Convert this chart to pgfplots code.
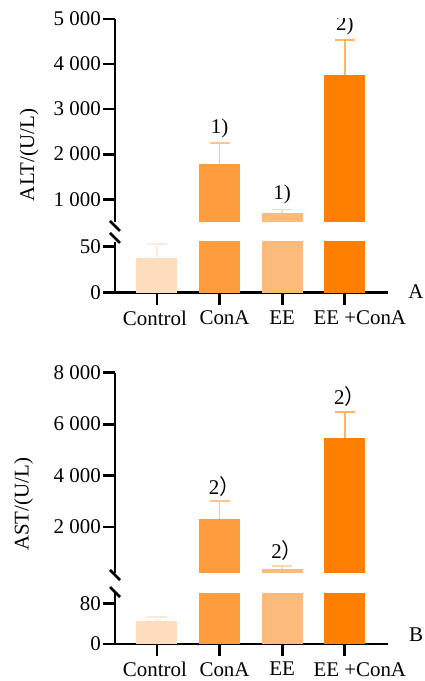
\documentclass[border=0pt]{standalone}
\usepackage{pgfplots}
\pgfplotsset{compat=1.18}
\usepackage{fontspec}
\setmainfont{Liberation Serif}
\newfontfamily\cjk{Noto Sans CJK SC}
\definecolor{cCtrl}{HTML}{FDDDBE}
\definecolor{cConA}{HTML}{FE9C3E}
\definecolor{cEE}{HTML}{FDBB7B}
\definecolor{cBoth}{HTML}{FF8000}
\newcommand{\fs}{\fontsize{21}{25}\selectfont}
\pgfplotsset{
  base/.style={
    scale only axis, width=273bp, xmin=-0.67, xmax=3.69,
    axis y line=left,
    /pgf/number format/assume math mode=true,
    tick label style={font=\fs},
    yticklabel style={inner sep=2bp},
    clip=true,
  },
  lines/.style={
    tick align=outside, xtick align=outside, ytick align=outside,
    major tick length=12bp,
    x axis line style={-, line width=2.8bp, black},
    y axis line style={-, line width=2.8bp, black},
    every outer x axis line/.append style={-, line width=2.8bp},
    every outer y axis line/.append style={-, line width=2.8bp},
    every major tick/.append style={line width=2.8bp, black},
    major tick style={line width=2.8bp, black},
  },
  lower/.style={base, height=50.7bp, ymin=0, axis x line=bottom,
    xtick={0,1,2,3},
    xticklabels={Control\hspace*{4bp}, \hspace*{10bp}ConA, EE, \hspace*{30bp}EE +ConA},
    xticklabel style={inner sep=2bp, yshift=-4bp}, lines},
  upper/.style={base, axis x line=none, xtick=\empty, lines},
  bar/.style={ybar, bar width=41bp, bar shift=0pt, draw=none, fill=#1},
  err/.style={error bars/.cd, y dir=plus, y explicit,
    error bar style={line width=1.8bp, #1!60!white},
    error mark options={rotate=90, line width=1.8bp, #1!60!white, mark size=10bp}},
}
\begin{document}
\begin{tikzpicture}[x=1bp,y=1bp]
\path[use as bounding box] (0,0) rectangle (424,681);
% ---------- Panel A ----------
\begin{axis}[lower, at={(115bp,388.3bp)}, anchor=south west, ymax=55,
  ytick={0,50}, yticklabels={0,50}]
\addplot[bar=cCtrl, err=cCtrl] coordinates {(0,38) +- (0,15)};
\addplot[bar=cConA] coordinates {(1,1780)};
\addplot[bar=cEE] coordinates {(2,690)};
\addplot[bar=cBoth] coordinates {(3,3750)};
\end{axis}
\begin{axis}[upper, at={(115bp,459.3bp)}, anchor=south west, height=202.7bp,
  ymin=500, ymax=5000, ytick={1000,2000,3000,4000,5000},
  yticklabels={1 000,2 000,3 000,4 000,5 000}]
\addplot[bar=cConA, err=cConA] coordinates {(1,1780) +- (0,470)};
\addplot[bar=cEE, err=cEE] coordinates {(2,690) +- (0,80)};
\addplot[bar=cBoth, err=cBoth] coordinates {(3,3750) +- (0,780)};
\node[anchor=south, inner sep=0pt, yshift=5bp, font=\fs] at (axis cs:1,2250) {1)};
\node[anchor=south, inner sep=0pt, yshift=5bp, font=\fs] at (axis cs:2,770) {1)};
\node[anchor=south, inner sep=0pt, yshift=5bp, font=\fs] at (axis cs:3,4530) {2)};
\end{axis}
% ---------- Panel B ----------
\begin{axis}[lower, at={(115bp,37bp)}, anchor=south west, ymax=100,
  ytick={0,80}, yticklabels={0,80}]
\addplot[bar=cCtrl, err=cCtrl] coordinates {(0,45) +- (0,9)};
\addplot[bar=cConA] coordinates {(1,2330)};
\addplot[bar=cEE] coordinates {(2,350)};
\addplot[bar=cBoth] coordinates {(3,5470)};
\end{axis}
\begin{axis}[upper, at={(115bp,107.7bp)}, anchor=south west, height=200.6bp,
  ymin=200, ymax=8000, ytick={2000,4000,6000,8000},
  yticklabels={2 000,4 000,6 000,8 000}]
\addplot[bar=cConA, err=cConA] coordinates {(1,2330) +- (0,670)};
\addplot[bar=cEE, err=cEE] coordinates {(2,350) +- (0,140)};
\addplot[bar=cBoth, err=cBoth] coordinates {(3,5470) +- (0,1010)};
\node[anchor=south, inner sep=0pt, yshift=5bp, xshift=5bp, font=\fs] at (axis cs:1,3000) {2\cjk{）}};
\node[anchor=south, inner sep=0pt, yshift=5bp, xshift=5bp, font=\fs] at (axis cs:2,490) {2\cjk{）}};
\node[anchor=south, inner sep=0pt, yshift=5bp, xshift=5bp, font=\fs] at (axis cs:3,6480) {2\cjk{）}};
\end{axis}
% break marks
\draw[line width=2.8bp] (110,460) -- (120,450);
\draw[line width=2.8bp] (110,448) -- (120,438);
\draw[line width=2.8bp] (110,111) -- (120,101);
\draw[line width=2.8bp] (110,94) -- (120,84);
% axis titles and panel letters
\node[rotate=90, font=\fs] at (29,526) {ALT/(U/L)};
\node[rotate=90, font=\fs] at (23.5,176.5) {AST/(U/L)};
\node[font=\fs] at (416,389) {A};
\node[font=\fs] at (416,46) {B};
\end{tikzpicture}
\end{document}
